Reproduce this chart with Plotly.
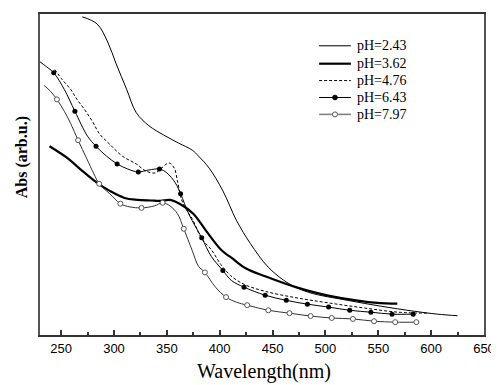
import plotly.graph_objects as go

# ---- data (wavelength in nm, absorbance in arb. units) ----
ph243_x = [270, 284, 294, 302, 312, 321, 333, 347, 361, 374, 380, 390, 403, 416, 429, 446, 465, 484, 521, 552, 584, 606, 625]
ph243_y = [0.991, 0.969, 0.913, 0.845, 0.765, 0.693, 0.652, 0.623, 0.598, 0.576, 0.557, 0.520, 0.449, 0.356, 0.285, 0.211, 0.161, 0.133, 0.108, 0.090, 0.074, 0.065, 0.060]

ph362_x = [239, 256, 268, 284, 296, 310, 322, 335, 344, 353, 362, 375, 387, 402, 411, 425, 443, 472, 505, 552, 568]
ph362_y = [0.588, 0.551, 0.517, 0.474, 0.449, 0.427, 0.421, 0.419, 0.418, 0.421, 0.409, 0.378, 0.325, 0.263, 0.241, 0.207, 0.183, 0.149, 0.121, 0.099, 0.098]

ph476_x = [244, 251, 259, 265, 272, 280, 286, 296, 308, 321, 330, 339, 345, 352, 357, 360, 364, 369, 374, 383, 392, 401, 410, 423, 443, 474, 505, 537, 569, 597]
ph476_y = [0.827, 0.796, 0.765, 0.734, 0.703, 0.663, 0.628, 0.594, 0.557, 0.533, 0.511, 0.505, 0.520, 0.536, 0.520, 0.480, 0.421, 0.387, 0.362, 0.300, 0.266, 0.220, 0.186, 0.158, 0.136, 0.115, 0.099, 0.084, 0.071, 0.068]

ph643_x = [230, 236, 243, 253, 263, 275, 283, 293, 303, 313, 323, 333, 343, 350, 358, 363, 371, 383, 392, 403, 411, 423, 443, 463, 483, 503, 523, 543, 563, 583]
ph643_y = [0.851, 0.836, 0.817, 0.765, 0.697, 0.619, 0.588, 0.557, 0.533, 0.517, 0.508, 0.514, 0.517, 0.505, 0.474, 0.440, 0.375, 0.303, 0.245, 0.201, 0.170, 0.149, 0.124, 0.108, 0.096, 0.087, 0.077, 0.071, 0.065, 0.065]
ph643_mx = [243, 263, 283, 303, 323, 343, 363, 383, 403, 423, 443, 463, 483, 503, 523, 543, 563, 583]
ph643_my = [0.817, 0.697, 0.588, 0.533, 0.508, 0.517, 0.440, 0.303, 0.201, 0.149, 0.124, 0.108, 0.096, 0.087, 0.077, 0.071, 0.065, 0.065]

ph797_x = [234, 240, 246, 253, 259, 266, 274, 281, 286, 296, 306, 315, 326, 338, 346, 353, 360, 366, 374, 380, 386, 396, 406, 416, 426, 446, 466, 486, 506, 526, 546, 566, 586]
ph797_y = [0.777, 0.759, 0.734, 0.697, 0.659, 0.607, 0.551, 0.502, 0.471, 0.440, 0.409, 0.399, 0.396, 0.402, 0.412, 0.402, 0.378, 0.331, 0.263, 0.214, 0.195, 0.149, 0.118, 0.102, 0.093, 0.077, 0.068, 0.059, 0.053, 0.050, 0.043, 0.040, 0.040]
ph797_mx = [246, 266, 286, 306, 326, 346, 366, 386, 406, 426, 446, 466, 486, 506, 526, 546, 566, 586]
ph797_my = [0.734, 0.607, 0.471, 0.409, 0.396, 0.412, 0.331, 0.195, 0.118, 0.093, 0.077, 0.068, 0.059, 0.053, 0.050, 0.043, 0.040, 0.040]

legend_names = ["pH=2.43", "pH=3.62", "pH=4.76", "pH=6.43", "pH=7.97"]
x_major_ticks = [250, 300, 350, 400, 450, 500, 550, 600, 650]
x_minor_ticks = [275, 325, 375, 425, 475, 525, 575, 625]

SERIF = "Liberation Serif, Times New Roman, serif"
SANS = "Liberation Sans, Arial, sans-serif"
GRAY = "#555555"
FRAME = "#333333"

fig = go.Figure()

fig.add_trace(go.Scatter(x=ph243_x, y=ph243_y, mode="lines", name=legend_names[0],
                         line=dict(color="black", width=1, shape="spline")))
fig.add_trace(go.Scatter(x=ph362_x, y=ph362_y, mode="lines", name=legend_names[1],
                         line=dict(color="black", width=2.2, shape="spline")))
fig.add_trace(go.Scatter(x=ph476_x, y=ph476_y, mode="lines", name=legend_names[2],
                         line=dict(color="black", width=1, dash="3px,2px", shape="spline")))
fig.add_trace(go.Scatter(x=ph643_x, y=ph643_y, mode="lines", name=legend_names[3],
                         line=dict(color="black", width=1, shape="spline")))
fig.add_trace(go.Scatter(x=ph643_mx, y=ph643_my, mode="markers", name=legend_names[3],
                         marker=dict(symbol="circle", size=5, color="black")))
fig.add_trace(go.Scatter(x=ph797_x, y=ph797_y, mode="lines", name=legend_names[4],
                         line=dict(color="#333333", width=1, shape="spline")))
fig.add_trace(go.Scatter(x=ph797_mx, y=ph797_my, mode="markers", name=legend_names[4],
                         marker=dict(symbol="circle", size=5, color="white",
                                     line=dict(color=GRAY, width=1))))

shapes = []
annotations = []

# ---- hand-built legend (tighter row spacing than plotly's legend allows) ----
leg_rows = [0.9009, 0.8452, 0.7926, 0.7399, 0.6873]
leg_x0, leg_x1, leg_mx, leg_tx = 0.6286, 0.7002, 0.6644, 0.7092
leg_styles = [
    dict(color="black", width=1),
    dict(color="black", width=2.2),
    dict(color="black", width=1, dash="3px,2px"),
    dict(color="black", width=1),
    dict(color="#808080", width=1.6),
]
for name, yy, st in zip(legend_names, leg_rows, leg_styles):
    shapes.append(dict(type="line", xref="paper", yref="paper",
                       x0=leg_x0, x1=leg_x1, y0=yy, y1=yy, line=st))
    annotations.append(dict(text=name, xref="paper", yref="paper", x=leg_tx, y=yy,
                            xanchor="left", yanchor="middle", showarrow=False,
                            font=dict(family=SERIF, size=14, color="black")))
shapes.append(dict(type="circle", xref="paper", yref="paper",
                   xsizemode="pixel", ysizemode="pixel",
                   xanchor=leg_mx, yanchor=leg_rows[3],
                   x0=-2.5, x1=2.5, y0=-2.5, y1=2.5,
                   fillcolor="black", line=dict(color="black", width=0.5)))
shapes.append(dict(type="circle", xref="paper", yref="paper",
                   xsizemode="pixel", ysizemode="pixel",
                   xanchor=leg_mx, yanchor=leg_rows[4],
                   x0=-2.5, x1=2.5, y0=-2.5, y1=2.5,
                   fillcolor="white", line=dict(color=GRAY, width=1)))

annotations += [
    dict(text="Wavelength(nm)", xref="paper", yref="paper", x=0.5056, y=-0.1146,
         xanchor="center", yanchor="middle", showarrow=False,
         font=dict(family=SERIF, size=20, color="black")),
    dict(text="<b>Abs (arb.u.)</b>", xref="paper", yref="paper", x=-0.0403, y=0.554,
         xanchor="center", yanchor="middle", showarrow=False, textangle=-90,
         font=dict(family=SERIF, size=16, color="black")),
]

# the page body keeps its default 8px margin, so the figure is sized to fit the window
fig.update_layout(
    width=491, height=377,
    margin=dict(l=32, r=12, t=4, b=50),
    paper_bgcolor="white", plot_bgcolor="white",
    showlegend=False,
    xaxis=dict(range=[230, 650], tickmode="array", tickvals=x_major_ticks,
               ticktext=[str(v) for v in x_major_ticks],
               ticks="inside", ticklen=5, tickwidth=1.5, tickcolor=FRAME,
               minor=dict(tickmode="array", tickvals=x_minor_ticks,
                          ticks="inside", ticklen=3, tickwidth=1.5, tickcolor=FRAME),
               showgrid=False, zeroline=False,
               showline=True, linecolor=FRAME, linewidth=2, mirror=True,
               tickfont=dict(family=SANS, size=13, color="black")),
    yaxis=dict(range=[0, 1], showticklabels=False, ticks="",
               showgrid=False, zeroline=False,
               showline=True, linecolor="#555555", linewidth=2, mirror=True),
    shapes=shapes,
    annotations=annotations,
)

fig.write_html("out.html")
